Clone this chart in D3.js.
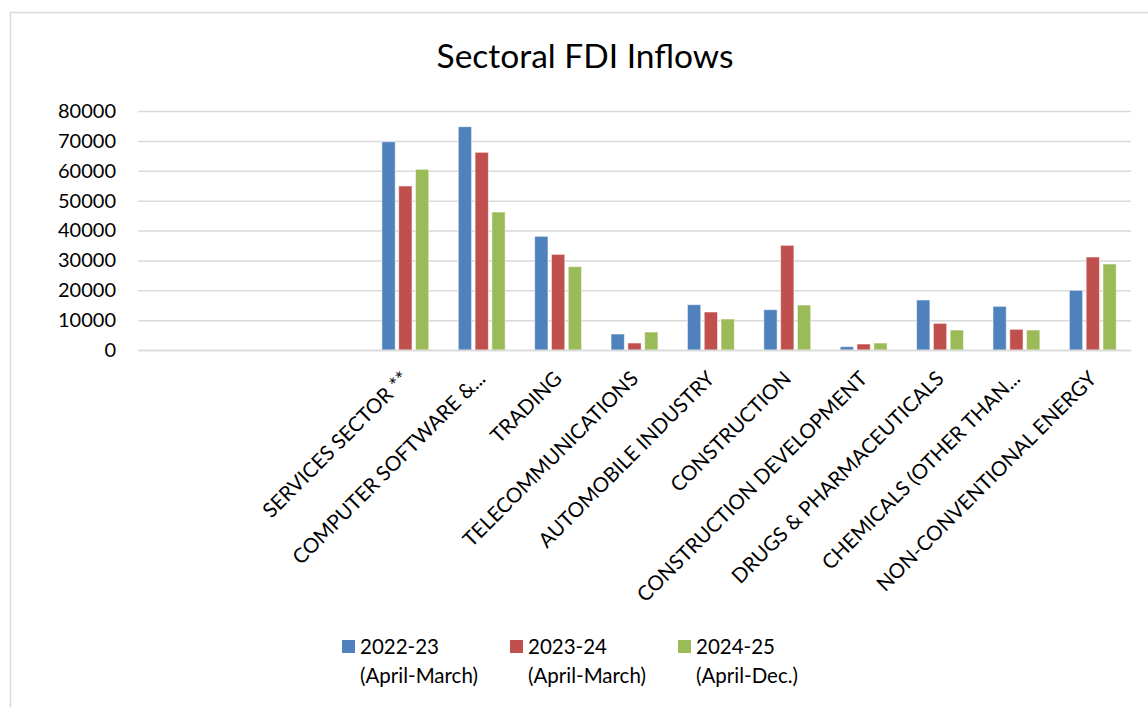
<!DOCTYPE html>
<html>
<head>
<meta charset="utf-8">
<script src="https://cdn.jsdelivr.net/npm/d3@7"></script>
<style>
  body { margin: 0; background: #fff; }
  svg { display: block; }
  text { font-family: Lato, "Open Sans", sans-serif; fill: #000; }
</style>
</head>
<body>
<svg id="chart" width="1148" height="707"></svg>
<script>
// Sector labels (the first three slots of the category axis are left blank)
const categories = ["", "", "",
  "SERVICES SECTOR **", "COMPUTER SOFTWARE &...", "TRADING", "TELECOMMUNICATIONS",
  "AUTOMOBILE INDUSTRY", "CONSTRUCTION", "CONSTRUCTION DEVELOPMENT",
  "DRUGS & PHARMACEUTICALS", "CHEMICALS (OTHER THAN...", "NON-CONVENTIONAL ENERGY"];

// FDI inflows per sector
const fy2022_23 = [null, null, null, 69700, 74750, 38050, 5350, 15170, 13500, 1120, 16740, 14620, 19970];
const fy2023_24 = [null, null, null, 54900, 66170, 32020, 2340, 12720, 35040, 2010, 8920, 6920, 31130];
const fy2024_25 = [null, null, null, 60480, 46190, 27890, 6020, 10380, 15060, 2340, 6690, 6690, 28790];

const seriesLabels = [["2022-23", "(April-March)"], ["2023-24", "(April-March)"], ["2024-25", "(April-Dec.)"]];
const seriesColors = ["#4F81BD", "#C0504D", "#9BBB59"];
const yTicks = [0, 10000, 20000, 30000, 40000, 50000, 60000, 70000, 80000];
const chartTitle = "Sectoral FDI Inflows";

const series = [fy2022_23, fy2023_24, fy2024_25];
const svg = d3.select("#chart");

// chart frame
svg.append("rect")
  .attr("x", 10.5).attr("y", 12.5).attr("width", 1160).attr("height", 720)
  .attr("fill", "#fff").attr("stroke", "#d9d9d9").attr("stroke-width", 1.5);

const plot = { left: 138, right: 1131, top: 111, bottom: 350 };

const x0 = d3.scaleBand().domain(d3.range(categories.length)).range([plot.left, plot.right]).padding(0);
const x1 = d3.scaleBand().domain(d3.range(series.length)).range([0, x0.bandwidth()])
  .paddingInner(0.208).paddingOuter(0.878);
const y = d3.scaleLinear().domain([0, 80000]).range([plot.bottom, plot.top]);

// gridlines
const grid = svg.append("g").attr("transform", `translate(${plot.left},0)`)
  .call(d3.axisLeft(y).tickValues(yTicks).tickSize(-(plot.right - plot.left)).tickFormat(""));
grid.select(".domain").remove();
grid.selectAll(".tick line").attr("stroke", "#d9d9d9").attr("stroke-width", 1.5);

// y tick labels
const yAxis = svg.append("g").attr("transform", `translate(${plot.left},0)`)
  .call(d3.axisLeft(y).tickValues(yTicks).tickSize(0).tickPadding(22).tickFormat(d3.format("d")));
yAxis.select(".domain").remove();
yAxis.selectAll("text").attr("font-size", 20).attr("font-family", "Lato, sans-serif").attr("fill", "#000");

// bars
const groups = svg.append("g").selectAll("g")
  .data(d3.range(categories.length))
  .join("g")
  .attr("transform", i => `translate(${x0(i)},0)`);

groups.selectAll("rect")
  .data(i => series.map((s, k) => ({ k, v: s[i] })).filter(d => d.v != null))
  .join("rect")
  .attr("x", d => x1(d.k))
  .attr("width", x1.bandwidth())
  .attr("y", d => y(d.v))
  .attr("height", d => y(0) - y(d.v))
  .attr("fill", d => seriesColors[d.k])
  .attr("stroke", "#ffffff").attr("stroke-opacity", 0.55).attr("stroke-width", 1);

// category axis
const xAxis = svg.append("g").attr("transform", `translate(0,${plot.bottom})`)
  .call(d3.axisBottom(x0).tickSize(0).tickFormat(i => categories[i]));
xAxis.select(".domain").attr("stroke", "#d9d9d9").attr("stroke-width", 1.5);
xAxis.selectAll("text")
  .attr("font-size", 20.5).attr("font-family", "Lato, sans-serif").attr("fill", "#000")
  .attr("text-anchor", "end")
  .attr("x", 0).attr("y", 0).attr("dy", 0)
  .attr("transform", "translate(5,30) rotate(-45)");

// title
svg.append("text")
  .attr("x", 585).attr("y", 68)
  .attr("text-anchor", "middle")
  .attr("font-size", 33.5)
  .text(chartTitle);

// legend
const legend = svg.append("g").selectAll("g")
  .data(seriesLabels)
  .join("g")
  .attr("transform", (d, k) => `translate(${342 + k * 168},640)`);
legend.append("rect")
  .attr("width", 13).attr("height", 13)
  .attr("fill", (d, k) => seriesColors[k]);
legend.append("text")
  .attr("x", 18).attr("y", 14)
  .attr("font-size", 20.5)
  .text(d => d[0]);
legend.append("text")
  .attr("x", 18).attr("y", 43)
  .attr("font-size", 20.5)
  .text(d => d[1]);
</script>
</body>
</html>
